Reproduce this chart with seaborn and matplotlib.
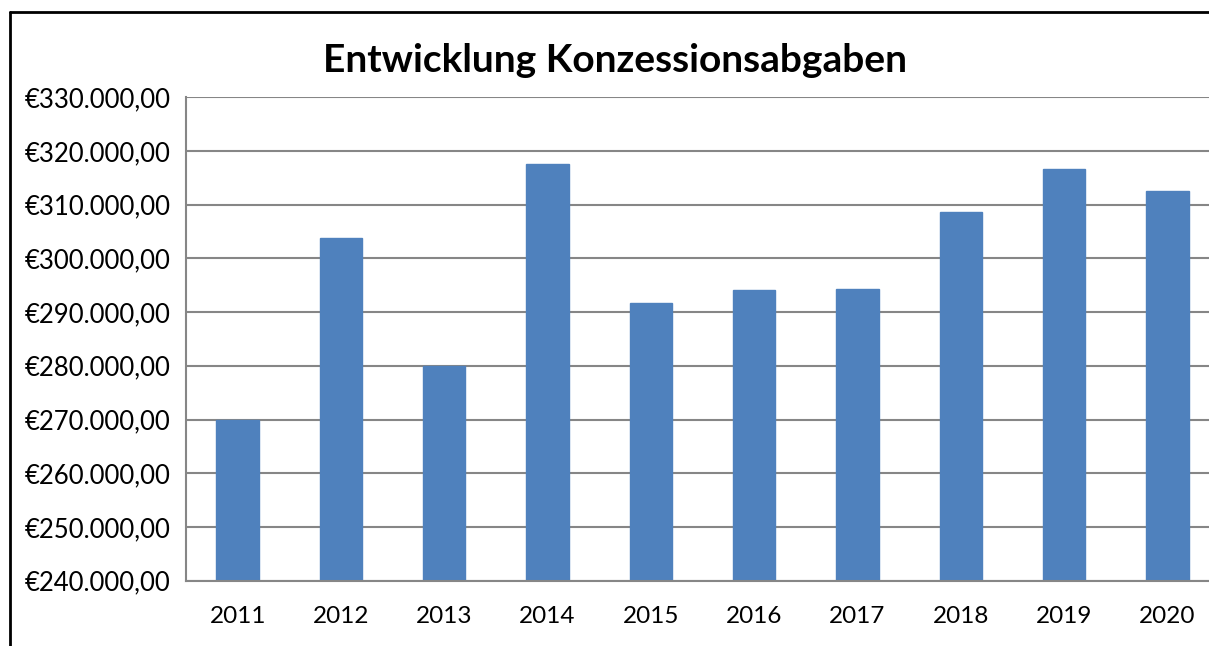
import matplotlib
matplotlib.use("Agg")
import matplotlib.pyplot as plt
from matplotlib.lines import Line2D
from matplotlib.ticker import FuncFormatter, MultipleLocator
import pandas as pd
import seaborn as sns

# Werte
jahre = ["2011", "2012", "2013", "2014", "2015", "2016", "2017", "2018", "2019", "2020"]
abgaben = [270000, 303800, 280000, 317550, 291700, 294100, 294300, 308600, 316700, 312550]

df = pd.DataFrame({"Jahr": jahre, "Abgaben": abgaben})

sns.set_style("white")
plt.rcParams["font.family"] = ["Lato", "DejaVu Sans"]

fig = plt.figure(figsize=(12.09, 6.46), dpi=100)
ax = fig.add_axes([186 / 1209, 1 - 580.6 / 646, 1033 / 1209, (580.6 - 97.3) / 646])

sns.barplot(data=df, x="Jahr", y="Abgaben", color="#4F81BD", width=0.41,
            saturation=1, ax=ax, edgecolor="#4F81BD")

ax.set_ylim(240000, 330000)
ax.set_xlim(-0.5, 9.5)
ax.yaxis.set_major_locator(MultipleLocator(10000))


def euro(v, pos):
    s = f"{v:,.2f}".replace(",", "X").replace(".", ",").replace("X", ".")
    return "€" + s


ax.yaxis.set_major_formatter(FuncFormatter(euro))
ax.grid(axis="y", color="#868686", linewidth=1.5)
ax.set_axisbelow(True)
for side in ["top", "right"]:
    ax.spines[side].set_visible(False)
for side in ["left", "bottom"]:
    ax.spines[side].set_color("#868686")
    ax.spines[side].set_linewidth(1.5)
ax.tick_params(axis="both", length=0, colors="black")
ax.tick_params(axis="y", pad=11, labelsize=18.5)
ax.tick_params(axis="x", pad=18, labelsize=17.5)
ax.set_xlabel("")
ax.set_ylabel("")

fig.text(615 / 1209, 1 - 60 / 646, "Entwicklung Konzessionsabgaben",
         ha="center", va="center", fontsize=28, fontweight="bold", color="black")

# Rahmen des Diagrammbereichs
fig.add_artist(Line2D([10 / 1209, 10 / 1209], [0, 1 - 12 / 646], color="black", lw=2))
fig.add_artist(Line2D([10 / 1209, 1], [1 - 12 / 646, 1 - 12 / 646], color="black", lw=2))

fig.savefig("out.png", dpi=100)
